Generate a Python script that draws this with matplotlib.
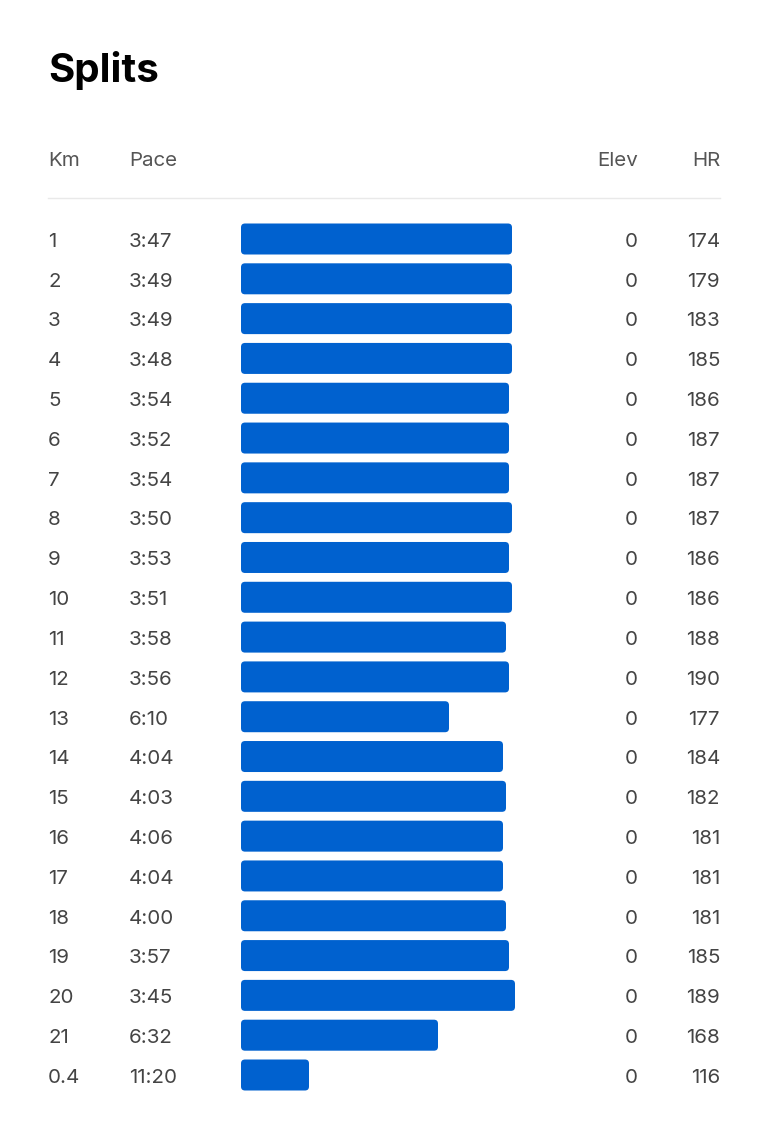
import matplotlib.pyplot as plt
from matplotlib.patches import FancyBboxPatch

# ==========
# data
# ==========
km = ['1', '2', '3', '4', '5', '6', '7', '8', '9', '10', '11',
      '12', '13', '14', '15', '16', '17', '18', '19', '20', '21', '0.4']
pace = ['3:47', '3:49', '3:49', '3:48', '3:54', '3:52', '3:54', '3:50', '3:53', '3:51', '3:58',
        '3:56', '6:10', '4:04', '4:03', '4:06', '4:04', '4:00', '3:57', '3:45', '6:32', '11:20']
# bar length as drawn (relative speed)
bar_len = [271, 271, 271, 271, 268, 268, 268, 271, 268, 271, 265,
           268, 208, 262, 265, 262, 262, 265, 268, 274, 197, 68]
elev = [0] * 22
hr = [174, 179, 183, 185, 186, 187, 187, 187, 186, 186, 188,
      190, 177, 184, 182, 181, 181, 181, 185, 189, 168, 116]

# ==========
# plot
# ==========
plt.rcParams['font.family'] = ['Inter', 'DejaVu Sans']

W, H = 768, 1140
fig = plt.figure(figsize=(W/100, H/100), dpi=100)
ax = fig.add_axes([0, 0, 1, 1])
ax.set_xlim(0, W)
ax.set_ylim(H, 0)
ax.axis('off')

bar_color = '#0061CF'
head_color = '#555555'
row_color = '#444444'

x_km = 48
x_pace = 129
x_bar = 241
x_elev = 638
x_hr = 720
y0 = 239
step = (1075 - 239) / 21.0
bar_h = 31
txt = 14.8

ax.text(x_km, 82, 'Splits', fontsize=29, fontweight='bold', color='black', va='baseline')

ax.text(x_km, 166, 'Km', fontsize=txt, color=head_color, va='baseline')
ax.text(x_pace, 166, 'Pace', fontsize=txt, color=head_color, va='baseline')
ax.text(x_elev, 166, 'Elev', fontsize=txt, color=head_color, va='baseline', ha='right')
ax.text(x_hr, 166, 'HR', fontsize=txt, color=head_color, va='baseline', ha='right')
ax.plot([x_km, x_hr], [198, 198], color='#e9e9e9', lw=1)

for i in range(len(km)):
    yc = y0 + i*step
    yb = yc + 7.8
    ax.text(x_km, yb, km[i], fontsize=txt, color=row_color, va='baseline')
    ax.text(x_pace, yb, pace[i], fontsize=txt, color=row_color, va='baseline')
    ax.text(x_elev, yb, str(elev[i]), fontsize=txt, color=row_color, va='baseline', ha='right')
    ax.text(x_hr, yb, str(hr[i]), fontsize=txt, color=row_color, va='baseline', ha='right')
    ax.add_patch(FancyBboxPatch((x_bar, yc - bar_h/2), bar_len[i], bar_h,
                                boxstyle='round,pad=0,rounding_size=4',
                                fc=bar_color, ec='none'))

plt.savefig('out.png', dpi=100, facecolor='white')
